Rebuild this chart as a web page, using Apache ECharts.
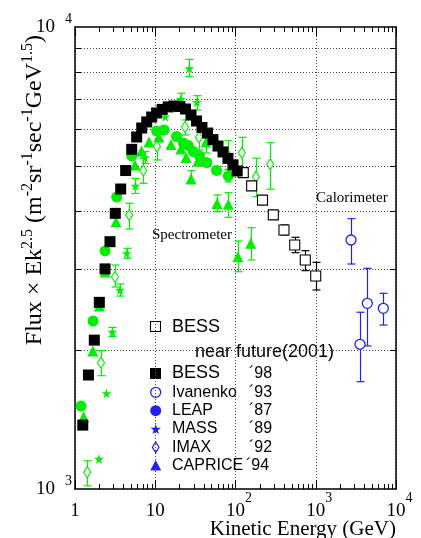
<!DOCTYPE html>
<html>
<head>
<meta charset="utf-8">
<script src="https://cdn.jsdelivr.net/npm/echarts@6/dist/echarts.min.js"></script>
<style>
  html, body { margin: 0; padding: 0; background: #fff; }
  #chart { width: 421px; height: 538px; }
</style>
</head>
<body>
<div id="chart"></div>
<script>
// Proton spectrum: flux × Ek^2.5 against kinetic energy (GeV)

// BESS '98 (filled squares)
const bess98Energy = [1.25, 1.47, 1.74, 2.01, 2.37, 2.73, 3.18, 3.71, 4.28, 5.09, 5.87, 6.78, 7.83, 9.03, 10.4,
  12.2, 14.5, 17.1, 20.3, 23.8, 27.9, 32.7, 38.2, 44.8, 52.4, 60.5, 69.9, 80.6, 93.1, 105];
const bess98Flux = [1375, 1765, 2100, 2535, 2995, 3430, 3950, 4460, 4890, 5435, 5780, 6045, 6230, 6385, 6515,
  6630, 6715, 6745, 6730, 6645, 6450, 6260, 6060, 5895, 5705, 5525, 5365, 5195, 5030, 4880];

// BESS near future (2001) (open squares)
const bessFutureEnergy = [125, 159, 217, 296, 402, 547, 741, 999];
const bessFutureFlux = [4840, 4530, 4220, 3920, 3635, 3375, 3130, 2890];
const bessFutureLow = [null, null, null, 3860, 3546, 3247, 2969, 2696];
const bessFutureHigh = [null, null, null, 3977, 3728, 3506, 3280, 3095];

// Ivanenko '93 (open circles)
const ivanenkoEnergy = [2750, 3560, 4390, 6950];
const ivanenkoFlux = [3459, 2057, 2523, 2461];
const ivanenkoLow = [3069, 1707, 2040, 2264];
const ivanenkoHigh = [3847, 2413, 3004, 2652];

// LEAP '87 (filled circles)
const leapEnergy = [1.19, 1.68, 2.37, 3.31, 5.09, 10.4, 12.9, 18.4, 22.4, 25.8, 29.8, 35.6, 43.8, 58.0, 81.4];
const leapFlux = [1512, 2310, 3275, 4286, 5258, 5955, 5985, 5794, 5609, 5540, 5377, 5258, 5090, 4892, 4760];
const leapLow = [null, null, null, null, null, null, null, null, null, null, null, null, 5015, 4796, 4620];
const leapHigh = [null, null, null, null, null, null, null, null, null, null, null, null, 5166, 4990, 4905];

// MASS '89 (stars)
const massEnergy = [1.99, 2.47, 2.93, 3.64, 4.41, 5.67, 7.45, 13.3, 20.8, 26.6, 32.9];
const massFlux = [1161, 1611, 2187, 2696, 3237, 4529, 5219, 6395, 6975, 8138, 6871];
const massLow = [null, null, 2138, 2616, 3157, 4363, 5065, null, 6769, 7805, 6613];
const massHigh = [null, null, 2237, 2778, 3319, 4702, 5378, null, 7187, 8512, 7101];

// IMAX '92 (open diamonds)
const imaxEnergy = [1.42, 2.11, 3.15, 4.74, 7.10, 10.5, 23.5, 35.1, 80.0, 120, 180, 271];
const imaxFlux = [1087, 1877, 2877, 3918, 4892, 5512, 6075, 5771, 5284, 5344, 4743, 5046];
const imaxLow = [1016, 1759, 2737, 3654, 4589, 5154, 5838, 5418, 4921, 4945, 4293, 4455];
const imaxHigh = [1151, 1993, 3054, 4154, 5198, 5868, 6292, 6136, 5675, 5771, 5198, 5618];

// CAPRICE '94 (filled triangles)
const capriceEnergy = [1.28, 1.67, 2.01, 2.37, 3.24, 5.59, 6.74, 8.36, 11.1, 15.7, 20.9, 24.2, 27.9, 34.1, 42.9,
  58.8, 81.4, 107, 155];
const capriceFlux = [1434, 1990, 2489, 2949, 3790, 5029, 5390, 5638, 5781, 5568, 5444, 5219, 4688, 5128, 5638,
  4149, 4133, 3183, 3402];
const capriceLow = [null, null, null, null, null, null, null, null, null, null, null, null, 4589, null, 5336,
  3983, 3874, 2953, 3131];
const capriceHigh = [null, null, null, null, null, null, null, null, null, null, null, null, 4887, null, 5955,
  4329, 4379, 3442, 3678];

// Axis ranges and minor tick positions
const xRange = [1, 10000];
const yRange = [1000, 10000];
const xDecades = [1, 10, 100, 1000];
const minorSteps = [2, 3, 4, 5, 6, 7, 8, 9];
const yMinorValues = [2000, 3000, 4000, 5000, 6000, 7000, 8000, 9000];

const SERIF = 'Liberation Serif';
const SANS = 'Liberation Sans';
const GREEN = '#00ee00';
const BLUE = '#1f1fff';
const STAR = 'path://M50,0L61.2,34.5L97.6,34.5L68.2,55.9L79.4,90.5L50,69.1L20.6,90.5L31.8,55.9L2.4,34.5L38.8,34.5Z';

const xMinorValues = [];
xDecades.forEach(d => minorSteps.forEach(m => xMinorValues.push(d * m)));

function points(xs, ys) { return xs.map((x, i) => [x, ys[i]]); }
function ranges(xs, lo, hi) {
  const out = [];
  xs.forEach((x, i) => { if (lo[i] != null) out.push([x, lo[i], hi[i]]); });
  return out;
}

// five-pointed star outline for the legend key
function starPoints(cx, cy, r) {
  const pts = [];
  for (let k = 0; k < 10; k++) {
    const rr = k % 2 === 0 ? r : r * 0.4;
    const a = -Math.PI / 2 + k * Math.PI / 5;
    pts.push([cx + rr * Math.cos(a), cy + rr * Math.sin(a)]);
  }
  return pts;
}

function errorBars(xs, lo, hi, color) {
  return {
    type: 'custom', silent: true, clip: false,
    data: ranges(xs, lo, hi),
    encode: { x: 0, y: [1, 2] },
    renderItem(params, api) {
      const x = api.value(0);
      const a = api.coord([x, api.value(1)]);
      const b = api.coord([x, api.value(2)]);
      const cx = Math.round(a[0]) + 0.5;
      const st = { stroke: color, lineWidth: 1.2 };
      return {
        type: 'group', children: [
          { type: 'line', shape: { x1: cx, y1: a[1], x2: cx, y2: b[1] }, style: st },
          { type: 'line', shape: { x1: cx - 4, y1: a[1], x2: cx + 4, y2: a[1] }, style: st },
          { type: 'line', shape: { x1: cx - 4, y1: b[1], x2: cx + 4, y2: b[1] }, style: st }
        ]
      };
    }
  };
}

function scatter(name, xs, ys, symbol, size, style) {
  return {
    type: 'scatter', name, data: points(xs, ys), symbol, symbolSize: size,
    itemStyle: Object.assign({ opacity: 1 }, style), silent: true
  };
}

const chart = echarts.init(document.getElementById('chart'), null, { renderer: 'canvas' });

const xLabelRich = {
  b: { fontFamily: SERIF, fontSize: 19, lineHeight: 40, color: '#000' },
  p: { fontFamily: SERIF, fontSize: 19, lineHeight: 40, color: '#000', padding: [0, 0, 0, 7] },
  s: { fontFamily: SERIF, fontSize: 14, lineHeight: 14, verticalAlign: 'top', color: '#000' }
};
const yLabelRich = {
  p: { fontFamily: SERIF, fontSize: 19, lineHeight: 30, color: '#000' },
  s: { fontFamily: SERIF, fontSize: 14, lineHeight: 14, verticalAlign: 'top', color: '#000', padding: [0, 0, 0, 10] }
};

const frameAxis = { lineStyle: { color: '#000', width: 1.5 } };

function legendText(x, y, text, size) {
  return { type: 'text', x, y, style: { text, fontFamily: SANS, fontSize: size, fill: '#000', verticalAlign: 'middle', textVerticalAlign: 'middle' } };
}

const option = {
  animation: false,
  backgroundColor: '#fff',
  grid: { left: 75, right: 25, top: 27, bottom: 49 },
  xAxis: [{
    type: 'log', logBase: 10, min: xRange[0], max: xRange[1], position: 'bottom',
    axisLine: Object.assign({ show: true, onZero: false }, frameAxis),
    axisTick: { show: true, inside: true, length: 9, lineStyle: { color: '#000', width: 1 } },
    splitLine: { show: true, lineStyle: { color: '#444', width: 1, type: [1, 2] } },
    minorTick: { show: false },
    axisLabel: {
      margin: 2,
      formatter: v => {
        const e = Math.round(Math.log10(v));
        if (e === 0) return '{b|1}';
        if (e === 1) return '{b|10}';
        return '{p|10}{s|' + e + '}';
      },
      rich: xLabelRich
    }
  }, {
    type: 'log', logBase: 10, min: xRange[0], max: xRange[1], position: 'top',
    axisLine: Object.assign({ show: true, onZero: false }, frameAxis),
    axisTick: { show: true, inside: true, length: 9, lineStyle: { color: '#000', width: 1 } },
    splitLine: { show: false }, axisLabel: { show: false }
  }],
  yAxis: [{
    type: 'log', logBase: 10, min: yRange[0], max: yRange[1], position: 'left',
    axisLine: Object.assign({ show: true, onZero: false }, frameAxis),
    axisTick: { show: false },
    splitLine: { show: false },
    axisLabel: {
      margin: 3,
      formatter: v => '{p|10}{s|' + Math.round(Math.log10(v)) + '}',
      rich: yLabelRich
    }
  }, {
    type: 'log', logBase: 10, min: yRange[0], max: yRange[1], position: 'right',
    axisLine: Object.assign({ show: true, onZero: false }, frameAxis),
    axisTick: { show: false }, splitLine: { show: false }, axisLabel: { show: false }
  }],
  series: [
    // horizontal dotted grid at 2000..9000 with short frame ticks
    {
      type: 'custom', silent: true, clip: false, z: 1,
      data: yMinorValues.map(v => [xRange[0], v]),
      encode: { x: 0, y: 1 },
      renderItem(params, api) {
        const v = api.value(1);
        const a = api.coord([xRange[0], v]);
        const b = api.coord([xRange[1], v]);
        const y = Math.round(a[1]) + 0.5;
        return {
          type: 'group', children: [
            { type: 'line', shape: { x1: a[0], y1: y, x2: b[0], y2: y }, style: { stroke: '#444', lineWidth: 1, lineDash: [1, 2] } },
            { type: 'line', shape: { x1: a[0], y1: y, x2: a[0] + 6, y2: y }, style: { stroke: '#000', lineWidth: 1 } },
            { type: 'line', shape: { x1: b[0] - 6, y1: y, x2: b[0], y2: y }, style: { stroke: '#000', lineWidth: 1 } }
          ]
        };
      }
    },
    // minor ticks on bottom and top frame
    {
      type: 'custom', silent: true, clip: false, z: 1,
      data: xMinorValues.map(v => [v, yRange[0]]),
      encode: { x: 0, y: 1 },
      renderItem(params, api) {
        const v = api.value(0);
        const a = api.coord([v, yRange[0]]);
        const b = api.coord([v, yRange[1]]);
        const x = Math.round(a[0]) + 0.5;
        return {
          type: 'group', children: [
            { type: 'line', shape: { x1: x, y1: a[1], x2: x, y2: a[1] - 5 }, style: { stroke: '#000', lineWidth: 1 } },
            { type: 'line', shape: { x1: x, y1: b[1], x2: x, y2: b[1] + 5 }, style: { stroke: '#000', lineWidth: 1 } }
          ]
        };
      }
    },
    errorBars(imaxEnergy, imaxLow, imaxHigh, GREEN),
    scatter('IMAX', imaxEnergy, imaxFlux, 'diamond', [7, 11], { color: '#fff', borderColor: GREEN, borderWidth: 1.2 }),
    errorBars(capriceEnergy, capriceLow, capriceHigh, GREEN),
    scatter('CAPRICE', capriceEnergy, capriceFlux, 'triangle', 11, { color: GREEN }),
    errorBars(massEnergy, massLow, massHigh, GREEN),
    scatter('MASS', massEnergy, massFlux, STAR, 10, { color: GREEN }),
    errorBars(leapEnergy, leapLow, leapHigh, GREEN),
    scatter('LEAP', leapEnergy, leapFlux, 'circle', 11, { color: GREEN }),
    errorBars(ivanenkoEnergy, ivanenkoLow, ivanenkoHigh, BLUE),
    scatter('Ivanenko', ivanenkoEnergy, ivanenkoFlux, 'circle', 10, { color: '#fff', borderColor: BLUE, borderWidth: 1.3 }),
    errorBars(bessFutureEnergy, bessFutureLow, bessFutureHigh, '#000'),
    scatter('BESS 2001', bessFutureEnergy, bessFutureFlux, 'rect', 10, { color: '#fff', borderColor: '#000', borderWidth: 1.1 }),
    scatter('BESS 98', bess98Energy, bess98Flux, 'rect', 11, { color: '#000' })
  ],
  graphic: [
    // y axis title
    {
      type: 'text', x: 35, y: 35, rotation: Math.PI / 2, silent: true,
      style: {
        text: '{t|Flux × Ek}{s|2.5}{t| (m}{s|-2}{t|sr}{s|-1}{t|sec}{s|-1}{t|GeV}{s|1.5}{t|)}',
        rich: {
          t: { fontFamily: SERIF, fontSize: 24, lineHeight: 31, fill: '#000' },
          s: { fontFamily: SERIF, fontSize: 16, lineHeight: 16, verticalAlign: 'top', fill: '#000' }
        },
        align: 'right', verticalAlign: 'middle', textAlign: 'right', textVerticalAlign: 'middle'
      }
    },
    // x axis title
    {
      type: 'text', x: 396, y: 529, silent: true,
      style: { text: 'Kinetic Energy (GeV)', fontFamily: SERIF, fontSize: 21, fill: '#000',
        align: 'right', verticalAlign: 'middle', textAlign: 'right', textVerticalAlign: 'middle' }
    },
    // region annotations
    {
      type: 'text', x: 316, y: 198, silent: true,
      style: { text: 'Calorimeter', fontFamily: SERIF, fontSize: 15, fill: '#000', verticalAlign: 'middle', textVerticalAlign: 'middle' }
    },
    {
      type: 'text', x: 152, y: 235, silent: true,
      style: { text: 'Spectrometer', fontFamily: SERIF, fontSize: 15, fill: '#000', verticalAlign: 'middle', textVerticalAlign: 'middle' }
    },
    // legend
    {
      type: 'group', silent: true, children: [
        { type: 'rect', shape: { x: 150.5, y: 321.5, width: 10, height: 10 }, style: { fill: '#fff', stroke: '#000', lineWidth: 1.1 } },
        legendText(172, 327, 'BESS', 18),
        legendText(195, 352, 'near future(2001)', 18),

        { type: 'rect', shape: { x: 150, y: 368, width: 11, height: 11 }, style: { fill: '#000' } },
        legendText(172, 373.5, 'BESS', 18),
        legendText(249, 373.5, '´98', 16),

        { type: 'circle', shape: { cx: 155.7, cy: 392.3, r: 5 }, style: { fill: '#fff', stroke: BLUE, lineWidth: 1.3 } },
        legendText(172, 392.3, 'Ivanenko', 16),
        legendText(249, 392.3, '´93', 16),

        { type: 'circle', shape: { cx: 155.7, cy: 410.7, r: 5.5 }, style: { fill: BLUE } },
        legendText(172, 410.7, 'LEAP', 16),
        legendText(249, 410.7, '´87', 16),

        { type: 'polygon', shape: { points: starPoints(155.7, 429.5, 5.5) }, style: { fill: BLUE } },
        legendText(172, 429, 'MASS', 16),
        legendText(249, 429, '´89', 16),

        { type: 'polygon', shape: { points: [[155.7, 442], [159, 447.3], [155.7, 452.6], [152.4, 447.3]] }, style: { fill: '#fff', stroke: BLUE, lineWidth: 1.2 } },
        legendText(172, 447.3, 'IMAX', 16),
        legendText(249, 447.3, '´92', 16),

        { type: 'polygon', shape: { points: [[155.7, 460], [161.2, 470.5], [150.2, 470.5]] }, style: { fill: BLUE } },
        legendText(172, 465.7, 'CAPRICE', 16),
        legendText(246, 465.7, '´94', 16)
      ]
    }
  ]
};

chart.setOption(option);
</script>
</body>
</html>
